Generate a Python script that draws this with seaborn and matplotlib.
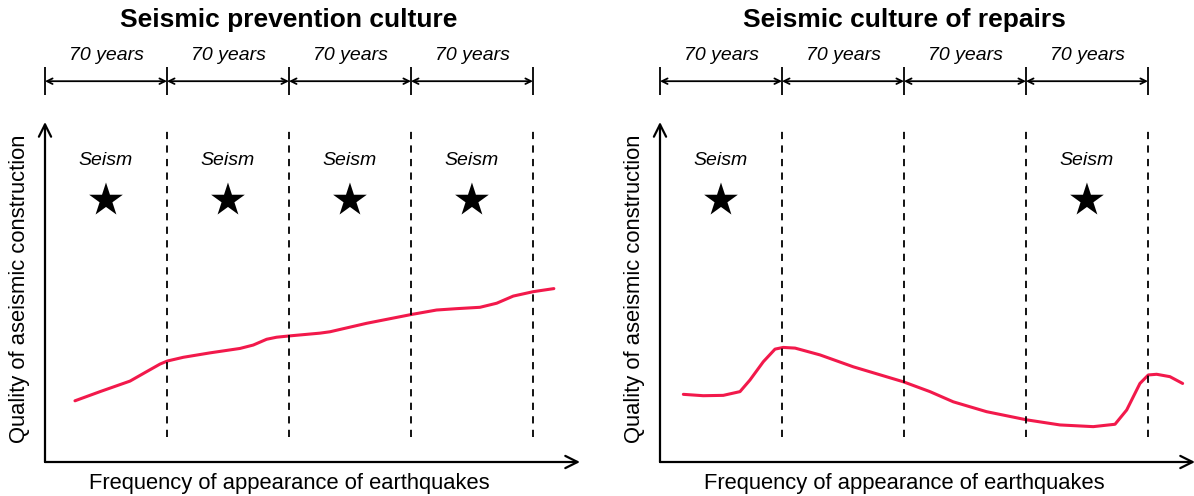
import numpy as np
import pandas as pd
import matplotlib
matplotlib.use("Agg")
import matplotlib.pyplot as plt
import seaborn as sns

# ---- data ----
titles = ["Seismic prevention culture", "Seismic culture of repairs"]
boundaries = [0, 70, 140, 210, 280]          # years, one period = 70 years
period_label = "70 years"
seism_left = [35, 105, 175, 245]             # earthquakes in the middle of each period
seism_right = [35, 245]

prev_years = [17.2, 31.6, 48.8, 58.4, 66.0, 70.2, 79.4, 94.7, 111.9, 119.5,
              127.2, 132.9, 140.6, 157.8, 163.5, 184.6, 210.4, 224.7, 236.2,
              249.6, 259.2, 268.7, 280.2, 292.0]
prev_quality = [18.0, 20.7, 23.8, 26.6, 28.8, 29.7, 30.8, 32.1, 33.4, 34.4,
                36.1, 36.7, 37.1, 37.9, 38.3, 40.8, 43.4, 44.7, 45.1,
                45.5, 46.7, 48.8, 50.1, 51.0]

rep_years = [13.4, 24.8, 36.3, 45.9, 51.6, 59.3, 66.0, 70.7, 77.5, 91.8,
             110.9, 139.6, 154.9, 168.3, 187.4, 210.4, 229.5, 248.6, 261.1,
             267.8, 275.4, 280.2, 285.0, 292.6, 299.9]
rep_quality = [19.9, 19.5, 19.6, 20.7, 24.1, 29.5, 33.2, 33.7, 33.5, 31.5,
               28.0, 23.6, 20.7, 17.7, 14.8, 12.4, 10.9, 10.4, 11.1,
               15.3, 23.1, 25.6, 25.8, 25.1, 23.1]

xlabel = "Frequency of appearance of earthquakes"
ylabel = "Quality of aseismic construction"

sns.set_theme(style="white")
plt.rcParams['font.family'] = ['Liberation Sans', 'DejaVu Sans']
plt.rcParams['text.color'] = 'black'
plt.rcParams['axes.labelcolor'] = 'black'

fig = plt.figure(figsize=(11.94, 4.96), dpi=100)
ax1 = fig.add_axes([45/1194, 34/496, 535/1194, 340/496])
ax2 = fig.add_axes([660/1194, 34/496, 535/1194, 340/496])

red = "#f2194b"

panels = [
    (ax1, titles[0], prev_years, prev_quality, seism_left),
    (ax2, titles[1], rep_years, rep_quality, seism_right),
]

for ax, title, xs, ys, seisms in panels:
    # quality curve
    df = pd.DataFrame({"years": xs, "quality": ys})
    sns.lineplot(data=df, x="years", y="quality", color=red, lw=2.2,
                 sort=False, ax=ax)
    ax.lines[-1].set_solid_joinstyle("round")

    # earthquakes
    sns.scatterplot(x=seisms, y=[77] * len(seisms), marker="*", s=650,
                    color="black", edgecolor="none", ax=ax, clip_on=False)
    for x in seisms:
        ax.text(x, 88.8, "Seism", ha="center", va="center", fontsize=14,
                style="italic")

    ax.set_xlim(0, 307)
    ax.set_ylim(0, 100)
    for s in ax.spines.values():
        s.set_visible(False)
    ax.set_xticks([])
    ax.set_yticks([])
    ax.set_xlabel("")
    ax.set_ylabel("")

    # axes drawn as arrows
    ax.annotate("", xy=(307, 0), xytext=(0, 0),
                arrowprops=dict(arrowstyle="->", lw=1.6, color="black",
                                mutation_scale=22, shrinkA=0, shrinkB=0),
                annotation_clip=False)
    ax.annotate("", xy=(0, 100), xytext=(0, 0),
                arrowprops=dict(arrowstyle="->", lw=1.6, color="black",
                                mutation_scale=22, shrinkA=0, shrinkB=0),
                annotation_clip=False)

    # period boundaries
    ax.vlines(boundaries[1:], 7.4, 98.2, colors="black", lw=1.3,
              linestyles=(0, (4, 3.5)))

    # dimension line of periods above the plot
    ax.vlines(boundaries, 108, 116.2, colors="black", lw=1.3, clip_on=False)
    for a, b in zip(boundaries[:-1], boundaries[1:]):
        ax.annotate("", xy=(b, 112), xytext=(a, 112),
                    arrowprops=dict(arrowstyle="<->", lw=1.3, color="black",
                                    mutation_scale=10, shrinkA=0, shrinkB=0),
                    annotation_clip=False)
        ax.text((a + b) / 2, 119.5, period_label, ha="center", va="center",
                fontsize=14, style="italic", clip_on=False)

    ax.text(140, 130, title, ha="center", va="center", fontsize=19,
            fontweight="bold", clip_on=False)
    ax.text(140, -6.3, xlabel, ha="center", va="center", fontsize=15.8,
            clip_on=False)
    ax.text(-0.047, 0.51, ylabel, rotation=90, ha="center", va="center",
            fontsize=15.8, transform=ax.transAxes, clip_on=False)

fig.savefig("out.png", dpi=100)
